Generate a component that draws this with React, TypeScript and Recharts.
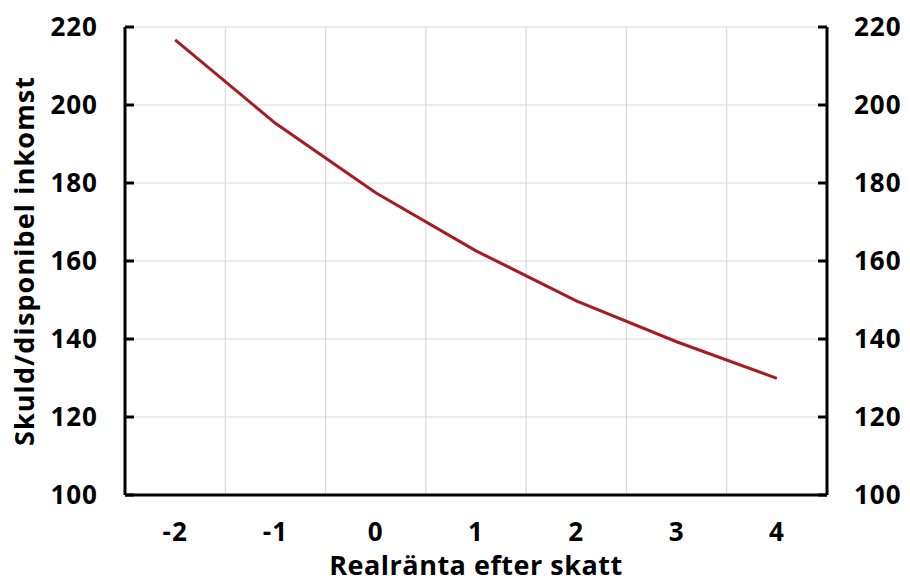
import { LineChart, Line, XAxis, YAxis, CartesianGrid } from 'recharts';

// realränta efter skatt (%) och skuld/disponibel inkomst (%)
const rates = [-2, -1, 0, 1, 2, 3, 4];
const debtRatio = [216.7, 195.3, 177.5, 162.6, 149.8, 139.3, 129.9];
const yTicks = [100, 120, 140, 160, 180, 200, 220];
const xLabelTicks = [-2, -1, 0, 1, 2, 3, 4];
const xBoundaryTicks = [-1.5, -0.5, 0.5, 1.5, 2.5, 3.5];

const data = rates.map((r, i) => ({ rate: r, debt: debtRatio[i] }));

const font = '"Open Sans", "Noto Sans", sans-serif';
const tickStyle = { fill: '#000', fontSize: 26, fontWeight: 700, fontFamily: font, letterSpacing: 1 };
const axisStroke = { stroke: '#000', strokeWidth: 3 };

export default function App() {
  return (
    <div style={{ position: 'absolute', left: 0, top: 0, background: '#fff' }}>
      <LineChart width={910} height={584} data={data} margin={{ top: 27, right: 0, left: 0, bottom: 0 }}>
        <CartesianGrid stroke="#d9d9d9" strokeWidth={1.2} xAxisId="b" />
        <XAxis
          xAxisId="b"
          dataKey="rate"
          type="number"
          domain={[-2.5, 4.5]}
          ticks={xBoundaryTicks}
          tickFormatter={() => ''}
          tickSize={-9}
          tickLine={axisStroke}
          axisLine={false}
          height={0}
        />
        <XAxis
          dataKey="rate"
          type="number"
          domain={[-2.5, 4.5]}
          ticks={xLabelTicks}
          tickLine={false}
          axisLine={axisStroke}
          tick={tickStyle}
          tickMargin={22}
          height={89}
          label={{
            value: 'Realränta efter skatt',
            position: 'insideBottom',
            offset: 9,
            style: { fill: '#000', fontSize: 27, fontWeight: 700, fontFamily: font, letterSpacing: 0.5 },
          }}
        />
        <YAxis
          domain={[100, 220]}
          ticks={yTicks}
          width={125}
          tickSize={-9}
          tickMargin={36}
          tickLine={axisStroke}
          axisLine={axisStroke}
          tick={tickStyle}
          label={{
            value: 'Skuld/disponibel inkomst',
            angle: -90,
            position: 'insideLeft',
            offset: 24,
            style: { textAnchor: 'middle', fill: '#000', fontSize: 27, fontWeight: 700, fontFamily: font, letterSpacing: 1.1 },
          }}
        />
        <YAxis
          yAxisId="r"
          orientation="right"
          domain={[100, 220]}
          ticks={yTicks}
          width={83}
          tickSize={-9}
          tickMargin={36}
          tickLine={axisStroke}
          axisLine={axisStroke}
          tick={tickStyle}
        />
        <Line
          dataKey="debt"
          type="linear"
          stroke="#a61c20"
          strokeWidth={3}
          dot={false}
          isAnimationActive={false}
        />
        {/* same series on the right axis, invisible, so that axis gets its ticks */}
        <Line
          yAxisId="r"
          dataKey="debt"
          type="linear"
          stroke="none"
          dot={false}
          activeDot={false}
          legendType="none"
          isAnimationActive={false}
        />
      </LineChart>
    </div>
  );
}
